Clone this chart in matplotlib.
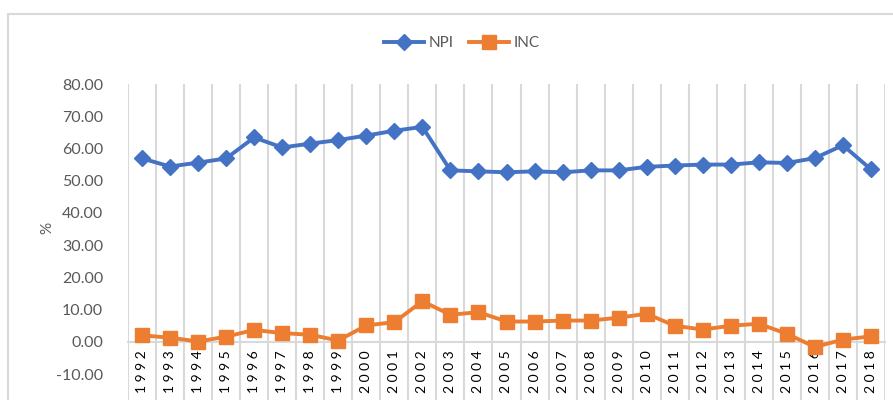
import matplotlib.pyplot as plt
from matplotlib.patches import Rectangle

# datos
years = list(range(1992, 2019))
npi = [56.9, 54.4, 55.6, 56.9, 63.4, 60.3, 61.5, 62.6, 64.0, 65.5, 66.7,
       53.2, 52.9, 52.6, 52.9, 52.6, 53.2, 53.2, 54.3, 54.7, 55.0, 55.0,
       55.7, 55.5, 57.0, 61.0, 53.5]
inc = [2.0, 1.3, 0.1, 1.6, 3.7, 2.7, 2.2, 0.4, 5.1, 6.1, 12.6,
       8.4, 9.2, 6.3, 6.3, 6.6, 6.6, 7.5, 8.7, 5.0, 3.8, 5.0,
       5.6, 2.5, -1.6, 0.7, 1.7]
yticks = [-10, 0, 10, 20, 30, 40, 50, 60, 70, 80]

plt.rcParams['font.family'] = ['Lato', 'DejaVu Sans']
gray = '#595959'
grid = '#d9d9d9'

fig = plt.figure(figsize=(8.93, 4.0), dpi=100)
ax = fig.add_axes([128 / 893, 0.0, (885 - 128) / 893, 0.79])

# borde del grafico (cortado a la derecha y abajo)
fig.patches.append(Rectangle((8 / 893, -0.1), 1.2, 1 - 14 / 400 + 0.1,
                             transform=fig.transFigure, fill=False,
                             edgecolor=grid, lw=1.5))

x = list(range(len(years)))
for b in range(len(years) + 1):
    ax.axvline(b - 0.5, color=grid, lw=1.5, zorder=0)

ax.plot(x, npi, color='#4472C4', lw=2.8, marker='D', markersize=8, label='NPI', zorder=3)
ax.plot(x, inc, color='#ED7D31', lw=2.8, marker='s', markersize=9.5, label='INC', zorder=3)

ax.set_xlim(-0.5, len(years) - 0.5)
ax.set_ylim(-18.05, 80)
ax.set_yticks(yticks)
ax.set_yticklabels([f'{v:.2f}' for v in yticks], color=gray, fontsize=11.5)
ax.set_xticks(x)
ax.set_xticklabels([' '.join(str(y)) for y in years], color=gray, fontsize=10.5)

for s in ['top', 'right', 'left']:
    ax.spines[s].set_visible(False)
ax.spines['bottom'].set_position(('data', 0))
ax.spines['bottom'].set_color(grid)
ax.spines['bottom'].set_linewidth(1.5)
ax.tick_params(axis='both', length=0)
ax.tick_params(axis='y', pad=18)
ax.tick_params(axis='x', pad=6, labelrotation=90)

fig.text(47 / 893, 1 - 228 / 400, '%', rotation=90, color=gray, fontsize=11,
         ha='center', va='center')

fig.legend(loc='center', bbox_to_anchor=(462 / 893, 1 - 43 / 400), ncol=2,
           frameon=False, fontsize=11, handlelength=2.6, columnspacing=1.0,
           handletextpad=0.3, labelcolor=gray)

fig.savefig('out.png', dpi=100)
